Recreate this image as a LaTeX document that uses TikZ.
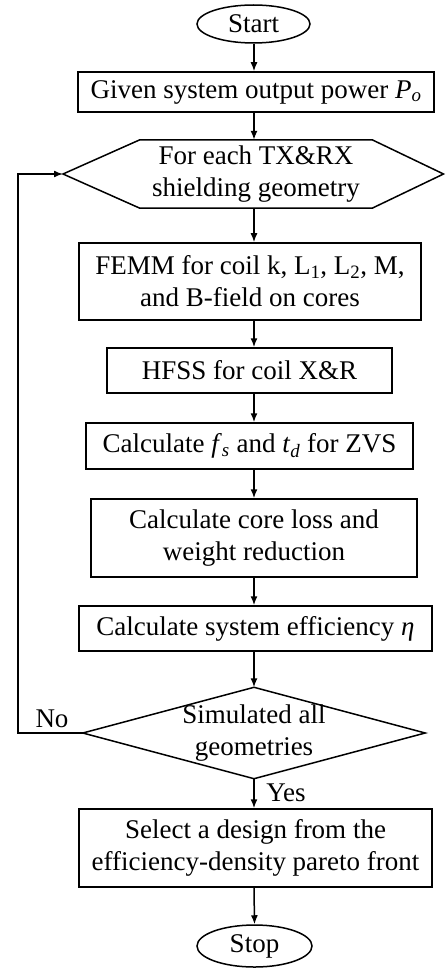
\documentclass[tikz,border=0pt]{standalone}
\usepackage{fontspec}
\setmainfont{Liberation Serif}
\usetikzlibrary{arrows.meta,shapes.geometric}
\begin{document}
\begin{tikzpicture}[x=1pt,y=-1pt,
  every node/.style={font=\fontsize{27}{32}\selectfont, inner sep=0pt, align=center},
  box/.style={draw, line width=1.5pt, rectangle},
  term/.style={draw, line width=1.5pt, ellipse},
  arr/.style={line width=1.5pt, -{Latex[length=9pt,width=7pt]}},
  lbl/.style={font=\fontsize{27}{32}\selectfont}]
\useasboundingbox (0,0) rectangle (445,968);
\coordinate (ax) at (254,0);
\node[term, minimum width=113pt, minimum height=38pt] (start) at (253.5,24) {Start};
\node[box, minimum width=356pt, minimum height=40pt] (given) at (256,92) {Given system output power \textit{P}\textsubscript{\textit{o}}};
\node[minimum width=232pt, minimum height=68pt] (hex) at (256,174) {For each TX\&RX\\shielding geometry};
\coordinate (hexW) at (63,174);
\coordinate (hexE) at (443.5,174);
\draw[line width=1.5pt, line join=miter] (hex.north west) -- (hex.north east) -- (hexE) -- (hex.south east) -- (hex.south west) -- (hexW) -- cycle;
\node[box, minimum width=342pt, minimum height=77pt] (femm) at (250,281.5) {FEMM for coil k, L\textsubscript{1}, L\textsubscript{2}, M,\\and B-field on cores};
\node[box, minimum width=285pt, minimum height=45pt] (hfss) at (249.5,370.5) {HFSS for coil X\&R};
\node[box, minimum width=327pt, minimum height=46pt] (calc) at (249.5,446) {Calculate \textit{f}\textsubscript{\textit{s}} and \textit{t}\textsubscript{\textit{d}} for ZVS};
\node[box, minimum width=326pt, minimum height=78pt] (core) at (254,538) {Calculate core loss and\\weight reduction};
\node[box, minimum width=353pt, minimum height=45pt] (eff) at (255.5,628.5) {Calculate system efficiency \textit{η}};
\node[minimum width=342pt, minimum height=91pt] (dec) at (254,733) {Simulated all\\geometries};
\draw[line width=1.5pt, line join=miter] (dec.north) -- (dec.east) -- (dec.south) -- (dec.west) -- cycle;
\node[box, minimum width=353pt, minimum height=78pt] (sel) at (255.5,848) {Select a design from the\\efficiency-density pareto front};
\node[term, minimum width=115pt, minimum height=42pt] (stop) at (254.5,946) {Stop};
\node[lbl] (no) at (52,719) {No};
\node[lbl] (yes) at (286,793) {Yes};
\coordinate (loopx) at (18,0);
\draw[arr] (start.south -| ax) -- (given.north -| ax);
\draw[arr] (given.south -| ax) -- (hex.north -| ax);
\draw[arr] (hex.south -| ax) -- (femm.north -| ax);
\draw[arr] (femm.south -| ax) -- (hfss.north -| ax);
\draw[arr] (hfss.south -| ax) -- (calc.north -| ax);
\draw[arr] (calc.south -| ax) -- (core.north -| ax);
\draw[arr] (core.south -| ax) -- (eff.north -| ax);
\draw[arr] (eff.south -| ax) -- (dec.north);
\draw[arr] (dec.south) -- (sel.north -| ax);
\draw[arr] (sel.south -| ax) -- (stop.north);
\draw[arr] (dec.west) -- (dec.west -| loopx) -- (hexW -| loopx) -- (hexW);
\end{tikzpicture}
\end{document}
